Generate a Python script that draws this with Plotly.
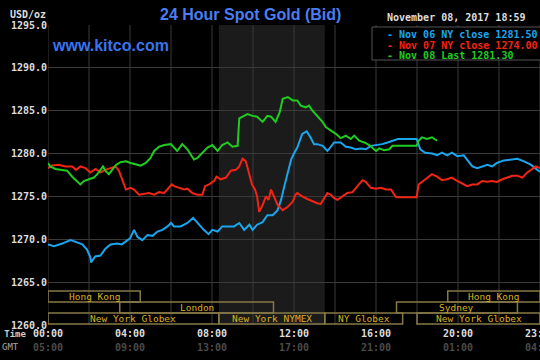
import plotly.graph_objects as go

# ---------------- data ----------------
blue_h = [0, 0.3, 0.69, 1.1, 1.35, 1.67, 1.9, 2.07, 2.1, 2.3, 2.56, 2.8, 3.05, 3.38, 3.6, 3.8, 4.0, 4.2, 4.36, 4.6, 4.85,
          5.1, 5.34, 5.58, 5.83, 6.0, 6.15, 6.47, 6.8, 7.08, 7.37, 7.6, 7.83, 8.02, 8.27, 8.5, 8.84, 9.08, 9.33, 9.57,
          9.82, 9.98, 10.2, 10.47, 10.7, 10.96, 11.2, 11.37, 11.53, 11.7, 11.86, 12.0, 12.16, 12.4, 12.62, 12.8, 12.98,
          13.14, 13.4, 13.63, 13.8, 13.96, 14.28, 14.53, 14.77, 15.0, 15.26, 15.5, 15.75, 16.08, 16.3, 16.57, 16.8,
          17.06, 17.55, 17.98, 18.16, 18.4, 18.73, 18.98, 19.22, 19.47, 19.7, 19.96, 20.28, 20.45, 20.7, 20.94, 21.18,
          21.43, 21.67, 21.9, 22.24, 22.57, 22.9, 23.22, 23.55, 23.87, 24.0]
blue_v = [1269.4, 1269.2, 1269.5, 1269.9, 1269.7, 1269.4, 1268.8, 1267.9, 1267.3, 1268.0, 1268.1, 1268.9, 1269.4, 1269.5,
          1269.4, 1269.7, 1270.1, 1271.1, 1270.3, 1269.9, 1270.5, 1270.4, 1270.9, 1271.1, 1271.5, 1271.9, 1271.5, 1271.5,
          1271.9, 1272.5, 1271.7, 1271.1, 1270.6, 1271.1, 1270.9, 1271.5, 1271.5, 1271.5, 1271.9, 1271.1, 1271.7, 1271.1,
          1271.7, 1272.0, 1272.8, 1272.8, 1273.4, 1274.6, 1276.2, 1277.8, 1279.3, 1280.0, 1280.7, 1282.3, 1282.6, 1281.9,
          1281.1, 1281.1, 1280.9, 1280.3, 1280.8, 1281.3, 1281.3, 1280.8, 1280.7, 1280.5, 1280.6, 1280.5, 1280.9, 1281.0,
          1281.1, 1281.3, 1281.5, 1281.7, 1281.7, 1281.7, 1280.5, 1280.1, 1280.0, 1279.8, 1280.1, 1279.8, 1280.1, 1279.7,
          1279.8, 1279.3, 1278.5, 1278.3, 1278.5, 1278.7, 1278.5, 1278.9, 1279.2, 1279.3, 1279.4, 1279.1, 1278.7, 1278.1,
          1277.9]

red_h = [0, 0.2, 0.52, 0.85, 1.18, 1.37, 1.58, 1.83, 2.07, 2.32, 2.56, 2.8, 3.05, 3.3, 3.46, 3.6, 3.8, 4.03, 4.2, 4.44,
         4.7, 4.93, 5.18, 5.42, 5.67, 5.9, 6.04, 6.15, 6.4, 6.64, 6.8, 7.04, 7.29, 7.53, 7.66, 7.86, 8.1, 8.22, 8.43,
         8.68, 8.92, 9.16, 9.33, 9.49, 9.65, 9.78, 9.95, 10.1, 10.2, 10.3, 10.47, 10.63, 10.76, 10.88, 11.04, 11.2,
         11.45, 11.7, 11.94, 12.07, 12.16, 12.4, 12.65, 12.9, 13.14, 13.3, 13.47, 13.63, 13.8, 13.96, 14.12, 14.37,
         14.6, 14.85, 15.1, 15.34, 15.5, 15.75, 16.0, 16.24, 16.49, 16.73, 16.98, 17.22, 17.55, 17.98, 18.08, 18.4,
         18.73, 18.98, 19.22, 19.47, 19.7, 19.96, 20.2, 20.45, 20.7, 20.94, 21.18, 21.43, 21.67, 21.9, 22.16, 22.4,
         22.65, 22.9, 23.14, 23.38, 23.63, 23.8, 24.0]
red_v = [1278.3, 1278.6, 1278.7, 1278.5, 1278.5, 1278.1, 1278.5, 1278.3, 1277.8, 1278.2, 1277.8, 1278.1, 1278.3, 1278.5,
         1278.0, 1277.0, 1275.8, 1276.0, 1275.8, 1275.2, 1275.3, 1275.4, 1275.2, 1275.5, 1275.4, 1276.0, 1276.4, 1276.2,
         1276.0, 1275.8, 1275.9, 1275.4, 1275.2, 1275.2, 1276.2, 1276.4, 1276.8, 1277.3, 1277.0, 1277.2, 1278.0, 1278.1,
         1278.5, 1279.4, 1279.1, 1278.0, 1276.4, 1275.8, 1275.0, 1273.2, 1274.0, 1275.0, 1274.6, 1275.8, 1274.8, 1274.0,
         1273.4, 1273.8, 1274.4, 1275.2, 1275.4, 1275.0, 1274.7, 1274.4, 1274.2, 1274.1, 1274.8, 1275.4, 1275.2, 1274.8,
         1274.6, 1275.0, 1275.4, 1275.5, 1276.2, 1276.9, 1276.7, 1276.0, 1275.9, 1276.0, 1275.8, 1275.8, 1274.9, 1274.9,
         1274.9, 1274.9, 1276.4, 1277.0, 1277.6, 1277.3, 1276.9, 1277.0, 1277.2, 1276.8, 1276.5, 1276.2, 1276.4, 1276.4,
         1276.8, 1276.7, 1276.8, 1276.7, 1277.0, 1277.2, 1277.4, 1277.4, 1277.2, 1277.8, 1278.2, 1278.5, 1278.3]

green_h = [0, 0.11, 0.36, 0.69, 0.93, 1.18, 1.42, 1.58, 1.75, 1.99, 2.24, 2.48, 2.68, 2.8, 2.97, 3.13, 3.33, 3.54, 3.8,
           4.03, 4.28, 4.52, 4.77, 5.0, 5.18, 5.42, 5.67, 6.0, 6.15, 6.3, 6.55, 6.8, 6.96, 7.12, 7.29, 7.53, 7.78, 8.02,
           8.27, 8.5, 8.76, 9.0, 9.25, 9.33, 9.57, 9.73, 9.98, 10.2, 10.47, 10.7, 10.88, 11.1, 11.3, 11.45, 11.7, 11.94,
           12.16, 12.33, 12.57, 12.73, 12.9, 13.14, 13.39, 13.55, 13.8, 14.04, 14.28, 14.53, 14.77, 14.94, 15.18, 15.43,
           15.67, 15.83, 16.0, 16.16, 16.4, 16.65, 16.8, 17.22, 17.63, 17.98, 18.08, 18.24, 18.49, 18.73, 18.98]
green_v = [1278.9, 1278.5, 1278.2, 1278.1, 1278.0, 1277.3, 1276.8, 1276.4, 1276.8, 1277.0, 1277.2, 1277.8, 1278.5, 1278.0,
           1277.6, 1278.1, 1278.7, 1279.0, 1279.1, 1278.9, 1278.7, 1278.6, 1278.9, 1279.5, 1280.3, 1280.8, 1281.0, 1281.1,
           1280.7, 1280.3, 1281.1, 1280.5, 1279.9, 1279.3, 1279.5, 1280.1, 1280.7, 1281.0, 1280.3, 1281.0, 1281.3, 1280.8,
           1280.9, 1284.1, 1284.4, 1284.6, 1284.4, 1284.3, 1283.7, 1284.4, 1284.3, 1283.7, 1284.8, 1286.4, 1286.6, 1286.2,
           1286.2, 1285.6, 1285.4, 1285.6, 1285.0, 1284.4, 1283.7, 1283.1, 1282.7, 1282.3, 1281.8, 1282.1, 1281.7, 1282.1,
           1281.5, 1281.3, 1281.0, 1280.6, 1280.3, 1280.6, 1280.4, 1280.5, 1280.9, 1280.9, 1280.9, 1280.9, 1281.5, 1281.9,
           1281.7, 1281.9, 1281.5]

series_labels = ["Nov 06 NY close 1281.50", "Nov 07 NY close 1274.00", "Nov 08 Last 1281.30"]
series_colors = ["#1aa6ee", "#f42414", "#20cc20"]

ny_tick_vals = [0, 4, 8, 12, 16, 20, 23.983]
ny_tick_text = ["00:00", "04:00", "08:00", "12:00", "16:00", "20:00", "23:59"]
gmt_tick_text = ["05:00", "09:00", "13:00", "17:00", "21:00", "01:00", "04:59"]
y_tick_vals = [1260, 1265, 1270, 1275, 1280, 1285, 1290, 1295]

nymex_start, nymex_end = 8.333, 13.5

sessions = ["Hong Kong", "London", "New York Globex", "New York NYMEX", "NY Globex", "Sydney", "Hong Kong", "New York Globex"]
session_start = [0, 3.5, 0, 8.333, 13.5, 17.0, 19.5, 18.0]
session_end = [4.5, 11.0, 8.333, 13.5, 17.3, 22.9, 24.0, 24.0]
session_row = [0, 1, 2, 2, 2, 1, 0, 2]

# ---------------- figure ----------------
MONO = "DejaVu Sans Mono"
L, T, W, H = 48, 25, 492, 300


def px(x):
    return (x - L) / W


def py(y):
    return (T + H - y) / H


fig = go.Figure()

for hx, vy, col in [(blue_h, blue_v, series_colors[0]), (red_h, red_v, series_colors[1]),
                    (green_h, green_v, series_colors[2])]:
    fig.add_trace(go.Scatter(x=hx, y=vy, mode="lines", line=dict(color=col, width=2), showlegend=False,
                             hoverinfo="skip", cliponaxis=True))

shapes = []
# NYMEX shaded period
shapes.append(dict(type="rect", xref="x", yref="paper", x0=nymex_start, x1=nymex_end, y0=0, y1=1,
                   fillcolor="#1b1b1b", line=dict(width=0), layer="below"))
# vertical gridlines every 2 hours
for h in range(0, 25, 2):
    shapes.append(dict(type="line", xref="x", yref="paper", x0=h, x1=h, y0=0, y1=1,
                       line=dict(color="#3a3a3a", width=1), layer="below"))

annotations = []
row_bounds = [(py(302), py(291)), (py(313), py(302)), (py(324), py(313))]
for name, s, e, r in zip(sessions, session_start, session_end, session_row):
    y0, y1 = row_bounds[r]
    shapes.append(dict(type="rect", xref="x", yref="paper", x0=s, x1=e, y0=y0, y1=y1,
                       line=dict(color="#857a45", width=1.5), fillcolor="rgba(0,0,0,0)", layer="above"))
    annotations.append(dict(x=(s + e) / 2, y=(y0 + y1) / 2, xref="x", yref="paper", text=name, showarrow=False,
                            font=dict(family=MONO, size=9.5, color="#dcb020"), xanchor="center", yanchor="middle"))

# legend box
shapes.append(dict(type="rect", xref="paper", yref="paper", x0=px(372), x1=1.01, y0=py(60), y1=py(27),
                   fillcolor="#000000", line=dict(color="#555555", width=1), layer="above"))
for i, (lab, col) in enumerate(zip(series_labels, series_colors)):
    annotations.append(dict(x=px(385), y=py(34.5 + i * 10.5), xref="paper", yref="paper", text="<b>- " + lab + "</b>",
                            showarrow=False, font=dict(family=MONO, size=10, color=col),
                            xanchor="left", yanchor="middle"))

annotations += [
    dict(x=px(250), y=py(15), xref="paper", yref="paper", text="<b>24 Hour Spot Gold (Bid)</b>", showarrow=False,
         font=dict(family="Liberation Sans", size=16, color="#4a7df2"), xanchor="center", yanchor="middle"),
    dict(x=px(50), y=py(45), xref="paper", yref="paper", text="<b>www.kitco.com</b>", showarrow=False,
         font=dict(family="Liberation Sans", size=16, color="#3a74ee"), xanchor="left", yanchor="middle"),
    dict(x=px(385), y=py(18), xref="paper", yref="paper", text="<b>November 08, 2017 18:59</b>", showarrow=False,
         font=dict(family=MONO, size=10, color="#dddddd"), xanchor="left", yanchor="middle"),
    dict(x=px(8), y=py(14), xref="paper", yref="paper", text="<b>USD/oz</b>", showarrow=False,
         font=dict(family=MONO, size=10, color="#dddddd"), xanchor="left", yanchor="middle"),
    dict(x=px(29), y=py(334), xref="paper", yref="paper", text="<b>NY Time</b>", showarrow=False,
         font=dict(family=MONO, size=9, color="#cccccc"), xanchor="right", yanchor="middle"),
    dict(x=px(0), y=py(347), xref="paper", yref="paper", text="GMT", showarrow=False,
         font=dict(family=MONO, size=9, color="#aaaaaa"), xanchor="left", yanchor="middle"),
]
for tv, t, g in zip(ny_tick_vals, ny_tick_text, gmt_tick_text):
    annotations.append(dict(x=tv, y=py(333), xref="x", yref="paper", text="<b>" + t + "</b>", showarrow=False,
                            font=dict(family=MONO, size=10, color="#dddddd"), xanchor="center", yanchor="middle"))
    annotations.append(dict(x=tv, y=py(347), xref="x", yref="paper", text="<b>" + g + "</b>", showarrow=False,
                            font=dict(family=MONO, size=10, color="#4a4a4a"), xanchor="center", yanchor="middle"))

fig.update_layout(
    width=540, height=360,
    margin=dict(l=L, r=540 - L - W, t=T, b=360 - T - H, autoexpand=False),
    paper_bgcolor="#000000", plot_bgcolor="#000000",
    shapes=shapes,
    annotations=annotations,
    xaxis=dict(range=[0, 24], showticklabels=False, showgrid=False, automargin=False,
               zeroline=False, showline=False, ticks=""),
    yaxis=dict(range=[1260, 1295], tickvals=y_tick_vals, ticktext=["<b>%.1f</b>" % v for v in y_tick_vals],
               tickfont=dict(family=MONO, size=10, color="#dddddd"), showgrid=True, automargin=False,
               gridcolor="#3a3a3a", gridwidth=1, zeroline=False, showline=False, ticks="", ticklen=3),
)

fig.write_html("out.html", config={"displayModeBar": False},
               post_script="document.body.style.margin='0';document.body.style.background='#000';")
